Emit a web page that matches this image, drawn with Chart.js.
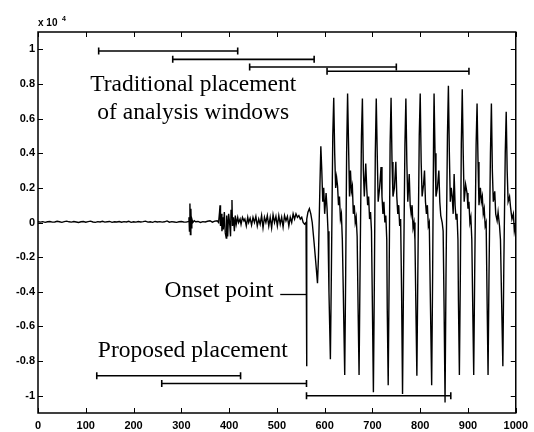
<!DOCTYPE html>
<html>
<head>
<meta charset="utf-8">
<script src="https://cdn.jsdelivr.net/npm/chart.js@4/dist/chart.umd.min.js"></script>
<style>
  html, body { margin: 0; padding: 0; background: #fff; }
  canvas { display: block; }
</style>
</head>
<body>
<canvas id="c" width="534" height="432"></canvas>
<script>
// ---- data (amplitude in units of 10^4) ----
const xTickValues = [0, 100, 200, 300, 400, 500, 600, 700, 800, 900, 1000];
const yTickValues = [-1, -0.8, -0.6, -0.4, -0.2, 0, 0.2, 0.4, 0.6, 0.8, 1];

// [sample index, amplitude]
const signalPoints = [
  [0,0.004],[5,0.002],[10,0.005],[15,0.001],[20,0.004],[25,0.006],[30,0.002],[35,0.003],[40,0.007],[45,0.004],
  [50,0.001],[55,0.005],[60,0.008],[65,0.004],[70,0.002],[75,0.006],[80,0.003],[85,0.0],[90,0.004],[95,0.006],
  [100,0.002],[105,0.005],[110,0.008],[115,0.003],[120,0.001],[125,0.005],[130,0.003],[135,0.007],[140,0.002],[145,0.004],
  [150,0.006],[155,0.001],[160,0.004],[165,0.003],[170,0.006],[175,0.002],[180,0.005],[185,0.003],[190,0.007],[195,0.001],
  [200,0.004],[205,0.002],[210,0.006],[215,0.003],[220,0.005],[225,0.008],[230,0.002],[235,0.004],[240,0.001],[245,0.006],
  [250,0.003],[255,0.005],[260,0.002],[265,0.004],[270,0.009],[275,0.002],[280,0.005],[285,0.003],[290,0.001],[295,0.004],
  [300,0.006],[305,0.003],[310,0.002],[314,0.005],[316,0.03],[317,-0.05],[318,0.11],[319,-0.07],[320,0.08],[321,-0.03],
  [322,0.02],[324,0.0],[327,0.01],[330,0.004],[335,0.006],[340,0.0],[345,0.005],[350,0.003],[355,0.007],[360,0.01],
  [365,0.002],[370,0.008],[375,0.01],[378,0.0],[380,0.06],[381,0.10],[382,-0.02],[384,0.05],[385,-0.05],[387,0.03],
  [388,-0.04],[390,0.06],[392,-0.06],[394,-0.09],[395,0.04],[397,-0.08],[399,0.05],[401,0.0],[403,-0.08],[404,0.07],
  [406,0.13],[407,-0.02],[409,0.03],[411,-0.05],[413,0.04],[415,-0.01],[418,0.03],[420,0.0],[423,0.02],[425,-0.01],
  [428,0.03],[431,0.01],[433,0.02],[436,-0.02],[439,0.03],[441,0.0],[444,0.025],[447,-0.015],[450,0.03],[453,0.0],
  [456,0.035],[459,-0.02],[462,0.02],[465,-0.01],[468,0.04],[471,-0.03],[474,0.03],[477,0.0],[480,0.04],[483,-0.02],
  [486,0.03],[489,-0.03],[492,0.045],[495,0.0],[498,0.035],[501,-0.02],[504,0.04],[507,-0.01],[510,0.03],[513,-0.025],
  [516,0.04],[519,0.01],[522,0.035],[525,-0.02],[528,0.03],[531,0.0],[534,0.05],[537,0.02],[540,0.05],[543,0.03],
  [546,0.04],[549,0.02],[552,0.03],[555,0.0],[558,-0.01],[561,0.0],[562,-0.83],[563,0.02],[565,0.06],[568,0.08],
  [571,0.05],[574,0.0],[578,-0.12],[582,-0.25],[585,-0.35],[587,-0.2],[590,0.2],[592,0.44],[594,0.3],[596,0.12],
  [598,0.2],[600,0.05],[603,0.17],[605,0.08],[607,-0.05],[609,-0.4],[612,-0.79],[614,-0.3],[617,0.5],[619,0.72],
  [621,0.4],[623,0.2],[625,0.26],[627,0.21],[629,0.1],[631,0.15],[633,0.02],[635,0.05],[637,-0.1],[639,-0.4],
  [642,-0.88],[644,-0.3],[646,0.4],[648,0.745],[650,0.45],[652,0.15],[654,0.3],[656,0.18],[658,0.21],[660,0.05],
  [662,0.1],[664,0.0],[666,0.03],[668,-0.08],[670,-0.5],[672,-0.88],[674,-0.3],[677,0.5],[679,0.716],[681,0.3],
  [683,0.15],[686,0.34],[688,0.2],[690,0.1],[692,0.15],[694,0.02],[696,0.06],[698,-0.05],[700,-0.5],[702,-0.98],
  [704,-0.35],[706,0.4],[708,0.716],[710,0.4],[712,0.12],[715,0.2],[718,0.32],[720,0.15],[722,0.05],[724,0.12],
  [726,0.0],[728,0.04],[730,-0.1],[731,-0.5],[733,-0.94],[735,-0.3],[737,0.45],[739,0.72],[741,0.35],[743,0.15],
  [746,0.2],[749,0.35],[751,0.15],[753,0.05],[755,0.1],[757,-0.02],[759,0.02],[761,-0.4],[763,-0.99],[765,-0.35],
  [768,0.45],[770,0.716],[772,0.35],[774,0.12],[777,0.28],[779,0.1],[781,0.05],[783,0.1],[785,-0.03],[787,0.0],
  [789,-0.1],[791,-0.5],[793,-0.885],[795,-0.3],[798,0.5],[800,0.745],[802,0.35],[804,0.15],[807,0.22],[809,0.30],
  [811,0.12],[813,0.05],[815,0.1],[817,-0.02],[819,0.0],[821,-0.4],[824,-0.94],[826,-0.3],[828,0.5],[829,0.745],
  [831,0.4],[833,0.15],[836,0.2],[839,0.30],[841,0.12],[843,0.04],[846,0.0],[848,-0.05],[850,-0.5],[852,-1.04],
  [854,-0.3],[857,0.5],[859,0.79],[861,0.4],[863,0.12],[865,0.2],[867,0.15],[869,0.05],[871,0.28],[873,0.1],
  [875,0.02],[877,0.05],[879,-0.1],[880,-0.45],[882,-0.88],[884,-0.3],[886,0.45],[888,0.77],[890,0.4],[892,0.12],
  [895,0.22],[898,0.17],[900,0.08],[902,0.12],[904,0.0],[906,0.03],[908,-0.1],[910,-0.5],[912,-0.88],[914,-0.3],
  [917,0.45],[919,0.687],[921,0.35],[923,0.1],[926,0.2],[928,0.12],[930,0.15],[932,0.05],[934,0.08],[936,-0.02],
  [938,0.0],[940,-0.45],[942,-0.88],[944,-0.3],[947,0.4],[949,0.687],[951,0.3],[953,0.12],[956,0.18],[958,0.05],
  [961,0.01],[963,0.06],[966,-0.02],[968,-0.1],[970,-0.4],[973,-0.83],[975,-0.25],[978,0.4],[980,0.64],[982,0.3],
  [984,0.12],[987,0.15],[989,0.09],[992,0.02],[995,0.05],[997,-0.05],[1000,0.0]
];

// analysis windows
const tradStart = [127, 282, 443, 605];
const tradEnd   = [418, 578, 750, 902];
const tradLevel = [0.99, 0.942, 0.898, 0.873];

const propStart = [123, 259, 562];
const propEnd   = [424, 562, 864];
const propLevel = [-0.885, -0.93, -1.0];

const onsetSample = 562;

// ---- build datasets ----
const datasets = [{
  data: signalPoints.map(p => ({x: p[0], y: p[1]})),
  showLine: true, borderColor: '#000', borderWidth: 1.4,
  pointRadius: 0, tension: 0, order: 1
}];
function addWindows(starts, ends, levels) {
  starts.forEach((s, i) => {
    datasets.push({
      data: [{x: s, y: levels[i]}, {x: ends[i], y: levels[i]}],
      showLine: true, borderColor: '#000', borderWidth: 1.6,
      pointStyle: 'line', rotation: 90, pointRadius: 3.5,
      pointBorderWidth: 1.6, pointBorderColor: '#000', order: 0
    });
  });
}
addWindows(tradStart, tradEnd, tradLevel);
addWindows(propStart, propEnd, propLevel);

const annot = {
  id: 'annot',
  afterDraw(chart) {
    const {ctx, chartArea: a, scales: {x, y}} = chart;
    ctx.save();
    ctx.strokeStyle = '#000';
    ctx.fillStyle = '#000';
    // box
    ctx.lineWidth = 1.5;
    ctx.strokeRect(a.left, a.top, a.right - a.left, a.bottom - a.top);
    // inward ticks
    ctx.lineWidth = 1;
    const tl = 5;
    ctx.beginPath();
    xTickValues.forEach(v => {
      const px = Math.round(x.getPixelForValue(v)) + 0.5;
      ctx.moveTo(px, a.bottom); ctx.lineTo(px, a.bottom - tl);
      ctx.moveTo(px, a.top); ctx.lineTo(px, a.top + tl);
    });
    yTickValues.forEach(v => {
      const py = Math.round(y.getPixelForValue(v)) + 0.5;
      ctx.moveTo(a.left, py); ctx.lineTo(a.left + tl, py);
      ctx.moveTo(a.right, py); ctx.lineTo(a.right - tl, py);
    });
    ctx.stroke();
    // exponent label
    ctx.font = 'bold 10px "Liberation Sans"';
    ctx.textAlign = 'left';
    ctx.textBaseline = 'alphabetic';
    ctx.fillText('x 10', a.left, a.top - 6);
    ctx.font = 'bold 7px "Liberation Sans"';
    ctx.fillText('4', a.left + 24, a.top - 11);
    // annotation texts
    ctx.font = '23.5px "Liberation Serif"';
    ctx.textAlign = 'center';
    ctx.fillText('Traditional placement', x.getPixelForValue(325), y.getPixelForValue(0.76));
    ctx.fillText('of analysis windows', x.getPixelForValue(325), y.getPixelForValue(0.597));
    ctx.fillText('Proposed placement', x.getPixelForValue(324), y.getPixelForValue(-0.777));
    ctx.textAlign = 'left';
    ctx.fillText('Onset point', x.getPixelForValue(265), y.getPixelForValue(-0.432));
    // onset leader
    ctx.lineWidth = 1.3;
    ctx.beginPath();
    const ly = Math.round(y.getPixelForValue(-0.412)) + 0.5;
    ctx.moveTo(x.getPixelForValue(507), ly);
    ctx.lineTo(x.getPixelForValue(onsetSample), ly);
    ctx.stroke();
    ctx.restore();
  }
};

new Chart(document.getElementById('c'), {
  type: 'scatter',
  data: { datasets },
  options: {
    responsive: false, animation: false, devicePixelRatio: 1,
    layout: { padding: { top: 32, right: 17, left: 0, bottom: 0 } },
    plugins: { legend: { display: false }, tooltip: { enabled: false } },
    scales: {
      x: {
        type: 'linear', min: 0, max: 1000,
        afterFit: s => { s.height = 19; },
        afterBuildTicks: s => { s.ticks = xTickValues.map(v => ({value: v})); },
        grid: { display: false, drawTicks: false },
        border: { display: false },
        ticks: { color: '#000', padding: 6, maxRotation: 0, autoSkip: false,
                 font: { family: '"Liberation Sans"', size: 11, weight: 'bold' },
                 callback: v => String(v) }
      },
      y: {
        type: 'linear', min: -1.1, max: 1.1,
        afterFit: s => { s.width = 38; },
        afterBuildTicks: s => { s.ticks = yTickValues.map(v => ({value: v})); },
        grid: { display: false, drawTicks: false },
        border: { display: false },
        ticks: { color: '#000', padding: 3, autoSkip: false,
                 font: { family: '"Liberation Sans"', size: 11, weight: 'bold' },
                 callback: v => String(Math.round(v * 10) / 10) }
      }
    }
  },
  plugins: [annot]
});
</script>
</body>
</html>
